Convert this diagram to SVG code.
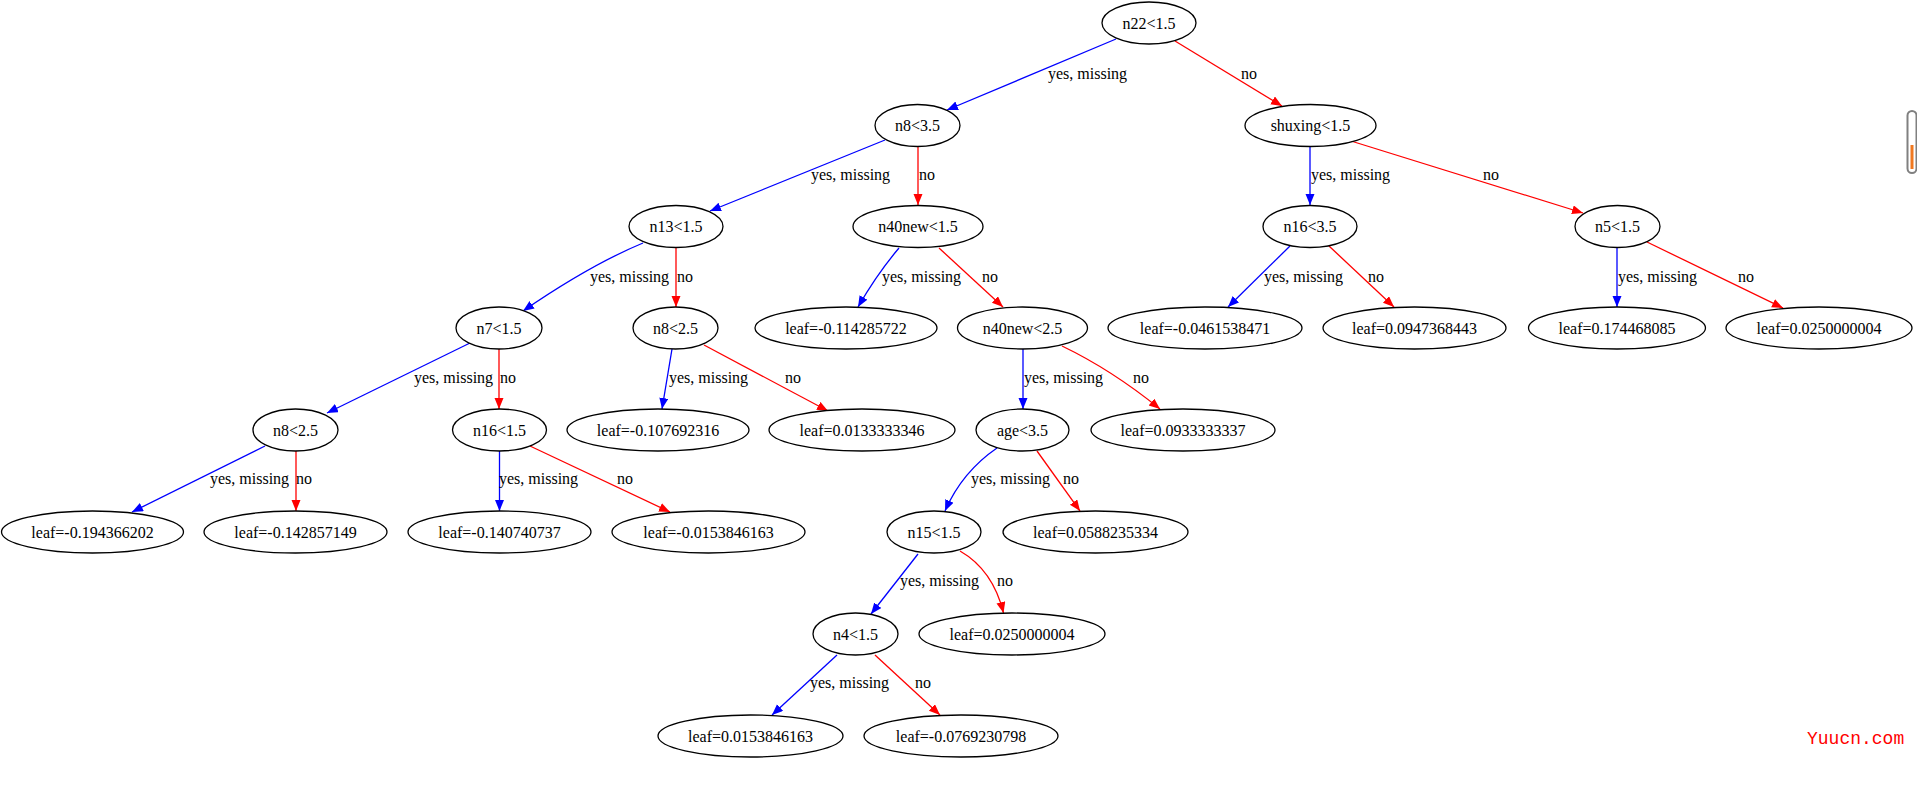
<svg xmlns="http://www.w3.org/2000/svg" width="1917" height="793" viewBox="0 0 1917 793">
<style>
.n ellipse{fill:#fff;stroke:#000;stroke-width:1.3}
.n text,.lb{font-family:"Liberation Serif","Times New Roman",serif;font-size:16px;fill:#000}
.n text{text-anchor:middle}
.b{fill:none;stroke:#0000ff;stroke-width:1.3;marker-end:url(#ab)}
.r{fill:none;stroke:#ff0000;stroke-width:1.3;marker-end:url(#ar)}
</style>
<defs>
<marker id="ab" markerUnits="userSpaceOnUse" markerWidth="12" markerHeight="10" refX="11" refY="4.5" orient="auto"><path d="M0,0 L11,4.5 L0,9 z" fill="#0000ff"/></marker>
<marker id="ar" markerUnits="userSpaceOnUse" markerWidth="12" markerHeight="10" refX="11" refY="4.5" orient="auto"><path d="M0,0 L11,4.5 L0,9 z" fill="#ff0000"/></marker>
</defs>
<rect width="1917" height="793" fill="#fff"/>
<g id="edges">
<path class="b" d="M1116,39 L947,110"/>
<path class="r" d="M1175,41 L1282,106"/>
<path class="b" d="M885,140 L710,211"/>
<path class="r" d="M918,147 L918,205"/>
<path class="b" d="M643,243 Q590,265 523,311"/>
<path class="r" d="M676,247 L676,307"/>
<path class="b" d="M899,248 Q877,274 858,307"/>
<path class="r" d="M939,248 L1003,307"/>
<path class="b" d="M1310,147 L1310,205"/>
<path class="r" d="M1351,141 L1583,213"/>
<path class="b" d="M1290,246 L1228,307"/>
<path class="r" d="M1329,246 L1394,307"/>
<path class="b" d="M1617,247 L1617,307"/>
<path class="r" d="M1647,242 L1783,308"/>
<path class="b" d="M470,343 L327,413"/>
<path class="r" d="M499,349 L499,409"/>
<path class="b" d="M672,349 L662,409"/>
<path class="r" d="M704,345 L828,411"/>
<path class="b" d="M1023,349 L1023,409"/>
<path class="r" d="M1062,346 Q1112,370 1160,409"/>
<path class="b" d="M265,446 L132,512"/>
<path class="r" d="M296,451 L296,511"/>
<path class="b" d="M499.5,451 L499.5,511"/>
<path class="r" d="M530,446 L670,512"/>
<path class="b" d="M997,448 Q962,472 945,511"/>
<path class="r" d="M1037,451 L1080,511"/>
<path class="b" d="M918,554 L871,614"/>
<path class="r" d="M960,551 Q993,570 1003.5,613"/>
<path class="b" d="M837,655 L772,715"/>
<path class="r" d="M875,655 L940,715"/>
</g>
<g id="edge-labels">
<text class="lb" x="1048" y="79">yes, missing</text>
<text class="lb" x="1241" y="79">no</text>
<text class="lb" x="811" y="180">yes, missing</text>
<text class="lb" x="919" y="180">no</text>
<text class="lb" x="1311" y="180">yes, missing</text>
<text class="lb" x="1483" y="180">no</text>
<text class="lb" x="590" y="282">yes, missing</text>
<text class="lb" x="677" y="282">no</text>
<text class="lb" x="882" y="282">yes, missing</text>
<text class="lb" x="982" y="282">no</text>
<text class="lb" x="1264" y="282">yes, missing</text>
<text class="lb" x="1368" y="282">no</text>
<text class="lb" x="1618" y="282">yes, missing</text>
<text class="lb" x="1738" y="282">no</text>
<text class="lb" x="414" y="383">yes, missing</text>
<text class="lb" x="500" y="383">no</text>
<text class="lb" x="669" y="383">yes, missing</text>
<text class="lb" x="785" y="383">no</text>
<text class="lb" x="1024" y="383">yes, missing</text>
<text class="lb" x="1133" y="383">no</text>
<text class="lb" x="210" y="484">yes, missing</text>
<text class="lb" x="296" y="484">no</text>
<text class="lb" x="499" y="484">yes, missing</text>
<text class="lb" x="617" y="484">no</text>
<text class="lb" x="971" y="484">yes, missing</text>
<text class="lb" x="1063" y="484">no</text>
<text class="lb" x="900" y="586">yes, missing</text>
<text class="lb" x="997" y="586">no</text>
<text class="lb" x="810" y="688">yes, missing</text>
<text class="lb" x="915" y="688">no</text>
</g>
<g id="n0" class="n"><ellipse cx="1149" cy="23" rx="47" ry="21"/><text x="1149" y="28.5">n22&lt;1.5</text></g>
<g id="n1" class="n"><ellipse cx="917.5" cy="125.5" rx="42.5" ry="21"/><text x="917.5" y="131">n8&lt;3.5</text></g>
<g id="n2" class="n"><ellipse cx="1310.5" cy="125.5" rx="65.5" ry="21"/><text x="1310.5" y="131">shuxing&lt;1.5</text></g>
<g id="n3" class="n"><ellipse cx="676" cy="226.5" rx="47" ry="21"/><text x="676" y="232">n13&lt;1.5</text></g>
<g id="n4" class="n"><ellipse cx="918" cy="226.5" rx="65" ry="21"/><text x="918" y="232">n40new&lt;1.5</text></g>
<g id="n5" class="n"><ellipse cx="1310" cy="226.5" rx="47" ry="21"/><text x="1310" y="232">n16&lt;3.5</text></g>
<g id="n6" class="n"><ellipse cx="1617.5" cy="226.5" rx="42.5" ry="21"/><text x="1617.5" y="232">n5&lt;1.5</text></g>
<g id="n7" class="n"><ellipse cx="499" cy="328" rx="43" ry="21"/><text x="499" y="333.5">n7&lt;1.5</text></g>
<g id="n8" class="n"><ellipse cx="675.5" cy="328" rx="42.5" ry="21"/><text x="675.5" y="333.5">n8&lt;2.5</text></g>
<g id="n9" class="n"><ellipse cx="846" cy="328" rx="91" ry="21"/><text x="846" y="333.5">leaf=-0.114285722</text></g>
<g id="n10" class="n"><ellipse cx="1022.5" cy="328" rx="65" ry="21"/><text x="1022.5" y="333.5">n40new&lt;2.5</text></g>
<g id="n11" class="n"><ellipse cx="1205" cy="328" rx="97" ry="21"/><text x="1205" y="333.5">leaf=-0.0461538471</text></g>
<g id="n12" class="n"><ellipse cx="1414.5" cy="328" rx="91.5" ry="21"/><text x="1414.5" y="333.5">leaf=0.0947368443</text></g>
<g id="n13" class="n"><ellipse cx="1617" cy="328" rx="88.5" ry="21"/><text x="1617" y="333.5">leaf=0.174468085</text></g>
<g id="n14" class="n"><ellipse cx="1819" cy="328" rx="93" ry="21"/><text x="1819" y="333.5">leaf=0.0250000004</text></g>
<g id="n15" class="n"><ellipse cx="295.5" cy="430" rx="42.5" ry="21"/><text x="295.5" y="435.5">n8&lt;2.5</text></g>
<g id="n16" class="n"><ellipse cx="499.5" cy="430" rx="47" ry="21"/><text x="499.5" y="435.5">n16&lt;1.5</text></g>
<g id="n17" class="n"><ellipse cx="658" cy="430" rx="91" ry="21"/><text x="658" y="435.5">leaf=-0.107692316</text></g>
<g id="n18" class="n"><ellipse cx="862" cy="430" rx="93" ry="21"/><text x="862" y="435.5">leaf=0.0133333346</text></g>
<g id="n19" class="n"><ellipse cx="1022.5" cy="430" rx="46.5" ry="21"/><text x="1022.5" y="435.5">age&lt;3.5</text></g>
<g id="n20" class="n"><ellipse cx="1183" cy="430" rx="92" ry="21"/><text x="1183" y="435.5">leaf=0.0933333337</text></g>
<g id="n21" class="n"><ellipse cx="92.5" cy="532" rx="91" ry="21"/><text x="92.5" y="537.5">leaf=-0.194366202</text></g>
<g id="n22" class="n"><ellipse cx="295.5" cy="532" rx="91.5" ry="21"/><text x="295.5" y="537.5">leaf=-0.142857149</text></g>
<g id="n23" class="n"><ellipse cx="499.5" cy="532" rx="91.5" ry="21"/><text x="499.5" y="537.5">leaf=-0.140740737</text></g>
<g id="n24" class="n"><ellipse cx="708.5" cy="532" rx="96.5" ry="21"/><text x="708.5" y="537.5">leaf=-0.0153846163</text></g>
<g id="n25" class="n"><ellipse cx="934" cy="532" rx="47" ry="21"/><text x="934" y="537.5">n15&lt;1.5</text></g>
<g id="n26" class="n"><ellipse cx="1095.5" cy="532" rx="92.5" ry="21"/><text x="1095.5" y="537.5">leaf=0.0588235334</text></g>
<g id="n27" class="n"><ellipse cx="855.5" cy="634" rx="42.5" ry="21"/><text x="855.5" y="639.5">n4&lt;1.5</text></g>
<g id="n28" class="n"><ellipse cx="1012" cy="634" rx="93" ry="21"/><text x="1012" y="639.5">leaf=0.0250000004</text></g>
<g id="n29" class="n"><ellipse cx="750.5" cy="736" rx="92.5" ry="21"/><text x="750.5" y="741.5">leaf=0.0153846163</text></g>
<g id="n30" class="n"><ellipse cx="961" cy="736" rx="97" ry="21"/><text x="961" y="741.5">leaf=-0.0769230798</text></g>
<rect x="1907.5" y="111" width="9" height="62" rx="4.5" fill="#fff" stroke="#808080" stroke-width="2"/>
<rect x="1910.5" y="145" width="3" height="24" fill="#f07820"/>
<text x="1807" y="744" font-family="'Liberation Mono','Courier New',monospace" font-size="18" fill="#ff0000">Yuucn.com</text>
</svg>
